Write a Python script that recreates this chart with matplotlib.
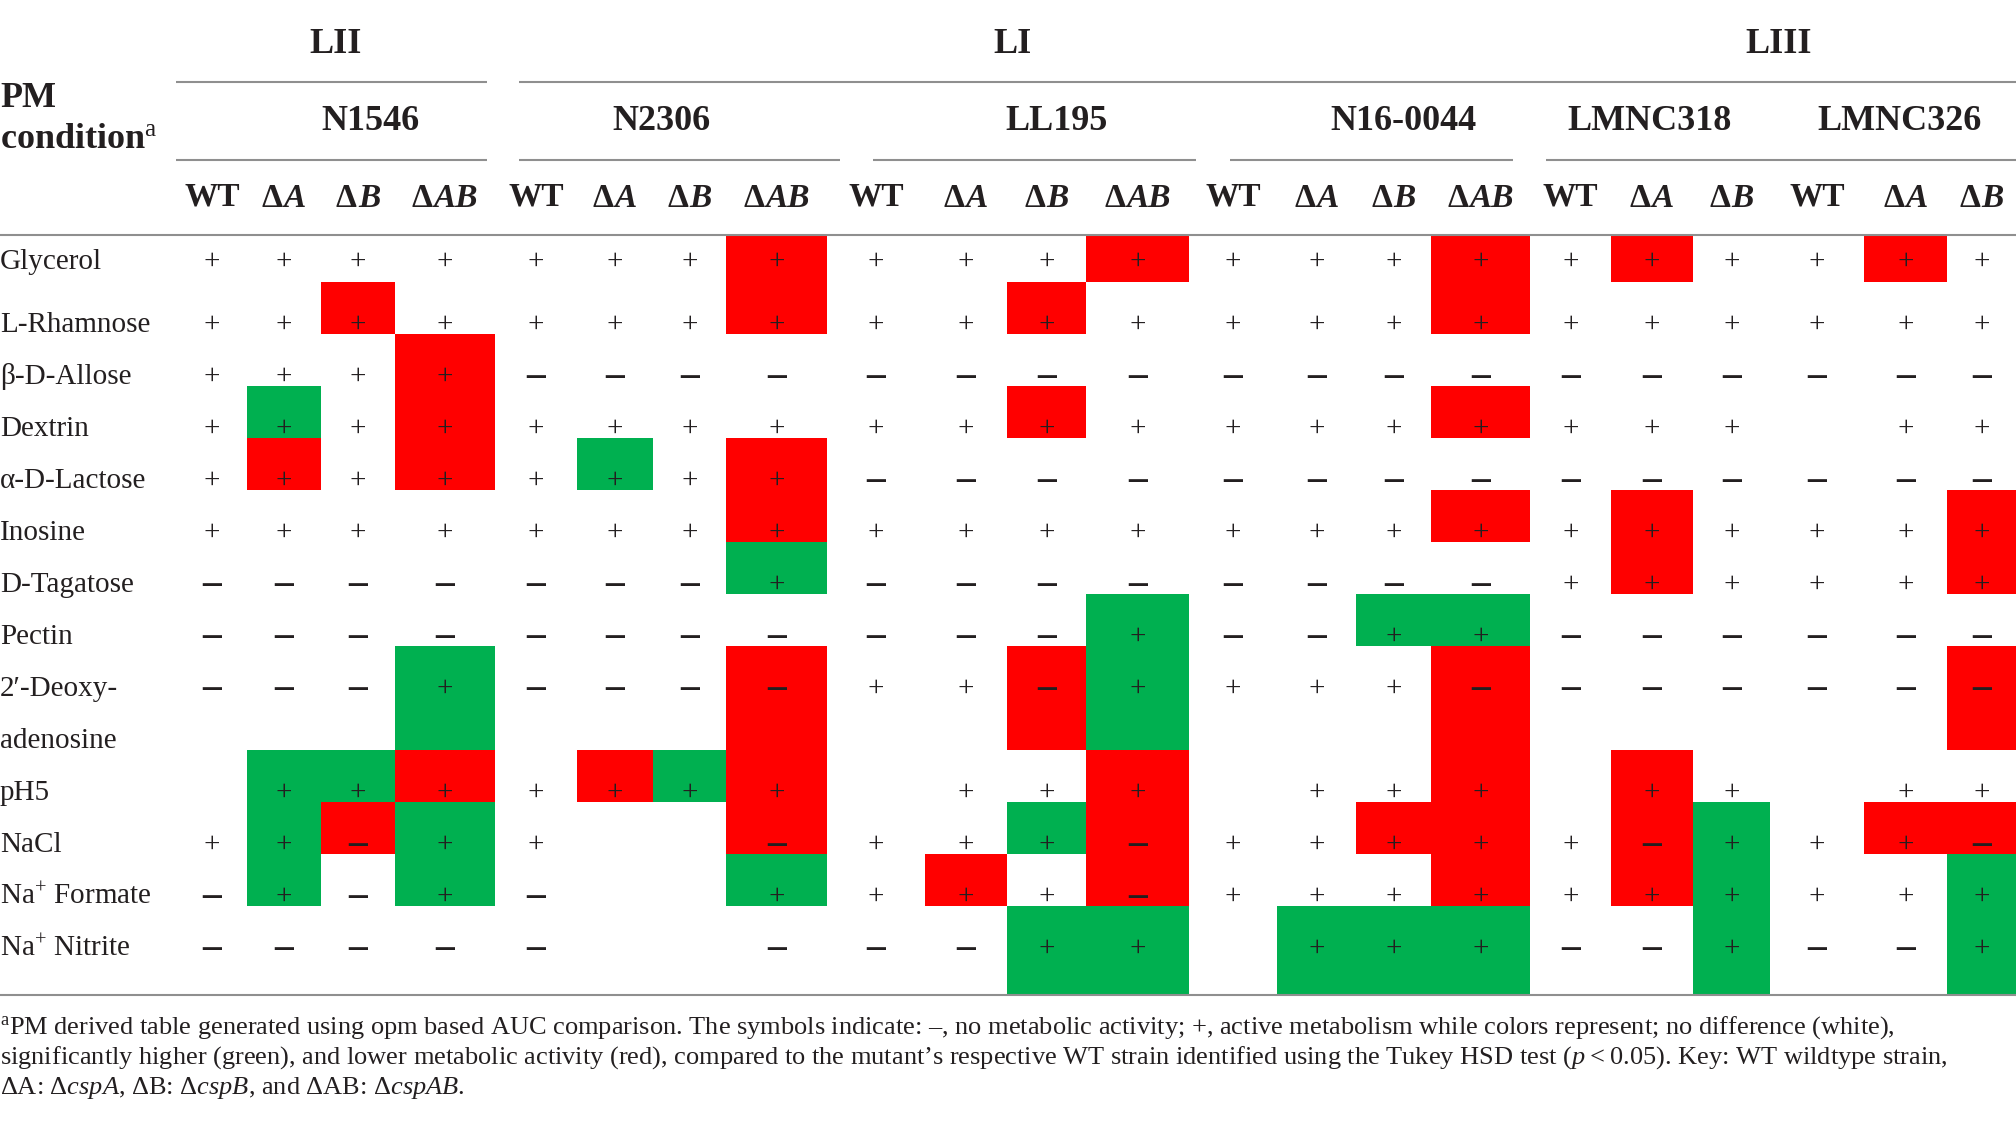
import matplotlib
matplotlib.use('Agg')
import matplotlib.pyplot as plt
from matplotlib.patches import Rectangle
from matplotlib.offsetbox import TextArea, HPacker, AnnotationBbox

plt.rcParams['font.family'] = ['Liberation Serif', 'DejaVu Serif']
plt.rcParams['mathtext.fontset'] = 'custom'
plt.rcParams['mathtext.rm'] = 'Liberation Serif'
plt.rcParams['mathtext.it'] = 'Liberation Serif:italic'
plt.rcParams['mathtext.bf'] = 'Liberation Serif:bold'

# ---------------- data ----------------
lineages = ['LII', 'LI', 'LIII']
strains = ['N1546', 'N2306', 'LL195', 'N16-0044', 'LMNC318', 'LMNC326']
strain_mutants = [
    ['WT', 'A', 'B', 'AB'],
    ['WT', 'A', 'B', 'AB'],
    ['WT', 'A', 'B', 'AB'],
    ['WT', 'A', 'B', 'AB'],
    ['WT', 'A', 'B'],
    ['WT', 'A', 'B'],
]
conditions = ['Glycerol', 'L-Rhamnose', 'β-D-Allose', 'Dextrin', 'α-D-Lactose',
              'Inosine', 'D-Tagatose', 'Pectin', '2′-Deoxy-\nadenosine', 'pH5',
              'NaCl', 'Na$^{+}$ Formate', 'Na$^{+}$ Nitrite']
# '+' active, '-' no activity, '.' blank ; groups separated by '|'
symbols = [
    "++++|++++|++++|++++|+++|+++",
    "++++|++++|++++|++++|+++|+++",
    "++++|----|----|----|---|---",
    "++++|++++|++++|++++|+++|.++",
    "++++|++++|----|----|---|---",
    "++++|++++|++++|++++|+++|+++",
    "----|---+|----|----|+++|+++",
    "----|----|---+|--++|---|---",
    "---+|----|++-+|+++-|---|---",
    ".+++|++++|.+++|.+++|.++|.++",
    "++-+|+..-|+++-|++++|+-+|++-",
    "-+-+|-..+|+++-|++++|+++|+++",
    "----|-..-|--++|.+++|--+|--+",
]
# 'G' significantly higher, 'R' lower, '.' no difference
changes = [
    "....|...R|...R|...R|.R.|.R.",
    "..R.|...R|..R.|...R|...|...",
    "...R|....|....|....|...|...",
    ".G.R|....|..R.|...R|...|...",
    ".R.R|.G.R|....|....|...|...",
    "....|...R|....|...R|.R.|..R",
    "....|...G|....|....|.R.|..R",
    "....|....|...G|..GG|...|...",
    "...G|...R|..RG|...R|...|..R",
    ".GGR|.RGR|...R|...R|.R.|...",
    ".GRG|...R|..GR|..RR|.RG|.RR",
    ".G.G|...G|.R.R|...R|.RG|..G",
    "....|....|..GG|.GGG|..G|..G",
]
footnote = [
    "$^{\\mathrm{a}}$PM derived table generated using opm based AUC comparison. The symbols indicate: \u2013, no metabolic activity; +, active metabolism while colors represent; no difference (white),",
    "significantly higher (green), and lower metabolic activity (red), compared to the mutant\u2019s respective WT strain identified using the Tukey HSD test ($\\mathit{p}$\u2009<\u20090.05). Key: WT wildtype strain,",
    "\u0394A: \u0394$\\mathit{cspA}$, \u0394B: \u0394$\\mathit{cspB}$, and \u0394AB: \u0394$\\mathit{cspAB}$.",
]

# ---------------- layout ----------------
W, H = 2016, 1125
TXT = '#231f20'
RULE = '#8f8f8f'
COLORS = {'R': '#ff0000', 'G': '#00b050'}

col_edges = [177, 247, 321, 395, 495, 577, 653, 726, 827, 925, 1007, 1086,
             1189, 1277, 1356, 1431, 1530, 1611, 1693, 1770, 1864, 1947, 2016]
lineage_x = [336, 1012, 1779]
lineage_lines = [(176, 487), (519, 2016), (519, 2016)]
strain_x = [370, 661, 1057, 1403, 1650, 1900]
strain_lines = [(176, 487), (519, 840), (873, 1196), (1230, 1513), (1546, 2016), (1546, 2016)]
header_bottom = 235
slot_edges = [header_bottom] + [282 + 52 * k for k in range(13)] + [995]
slot_sym_y = [262] + [325 + 52 * k for k in range(13)]

fig = plt.figure(figsize=(W / 100, H / 100), dpi=100)
ax = fig.add_axes([0, 0, 1, 1])
ax.set_xlim(0, W)
ax.set_ylim(H, 0)
ax.axis('off')

# rules
for (a, b) in set(lineage_lines):
    ax.plot([a, b], [82, 82], color=RULE, lw=1.5, solid_capstyle='butt')
for (a, b) in set(strain_lines):
    ax.plot([a, b], [160, 160], color=RULE, lw=1.5, solid_capstyle='butt')
ax.plot([0, W], [header_bottom, header_bottom], color=RULE, lw=1.5)
ax.plot([0, W], [slot_edges[-1], slot_edges[-1]], color=RULE, lw=1.5)

# headers
for name, x in zip(lineages, lineage_x):
    ax.text(x, 53, name, ha='center', va='baseline', fontsize=26, fontweight='bold', color=TXT)
for name, x in zip(strains, strain_x):
    ax.text(x, 130, name, ha='center', va='baseline', fontsize=26, fontweight='bold', color=TXT)
ax.text(0, 107, 'PM', ha='left', va='baseline', fontsize=26, fontweight='bold', color=TXT)
ax.text(0, 148, 'condition$^{\\mathrm{a}}$', ha='left', va='baseline', fontsize=26, fontweight='bold', color=TXT)

col = 0
col_centers = []
for muts in strain_mutants:
    for m in muts:
        xc = (col_edges[col] + col_edges[col + 1]) / 2
        col_centers.append(xc)
        if m == 'WT':
            ax.text(xc, 205, 'WT', ha='center', va='baseline', fontsize=24, fontweight='bold', color=TXT)
        else:
            box = HPacker(children=[
                TextArea('\u0394', textprops=dict(fontsize=24, fontweight='bold', color=TXT)),
                TextArea(m, textprops=dict(fontsize=24, fontweight='bold', fontstyle='italic', color=TXT)),
            ], pad=0, sep=1, align='baseline')
            ab = AnnotationBbox(box, (xc, 198.5), xycoords='data', frameon=False,
                                box_alignment=(0.5, 0.5), pad=0)
            ax.add_artist(ab)
        col += 1

# body
slot = 0
for cond, sym, chg in zip(conditions, symbols, changes):
    lines = cond.split('\n')
    nslots = len(lines)
    top = slot_edges[slot]
    bottom = slot_edges[slot + nslots]
    s = sym.replace('|', '')
    c = chg.replace('|', '')
    for j in range(len(s)):
        if c[j] in COLORS:
            ax.add_patch(Rectangle((col_edges[j], top), col_edges[j + 1] - col_edges[j],
                                   bottom - top, facecolor=COLORS[c[j]], edgecolor='none', zorder=1))
    for k, ln in enumerate(lines):
        ax.text(0, slot_sym_y[slot + k] + 7, ln, ha='left', va='baseline', fontsize=21, color=TXT, zorder=3)
    y = slot_sym_y[slot]
    for j in range(len(s)):
        if s[j] == '+':
            ax.text(col_centers[j], y + 7, '+', ha='center', va='baseline', fontsize=21, color=TXT, zorder=3)
        elif s[j] == '-':
            ax.text(col_centers[j], y + 9, '\u2013', ha='center', va='baseline', fontsize=27,
                    fontweight='bold', color=TXT, zorder=3)
    slot += nslots

# footnote, fitted to width
renderer = fig.canvas.get_renderer()
probe = ax.text(0, 0, footnote[1], fontsize=17)
wpx = probe.get_window_extent(renderer).width
probe.remove()
fs = 17 * 1953 / wpx
for ln, yb in zip(footnote, [1034, 1064, 1094]):
    ax.text(0, yb, ln, ha='left', va='baseline', fontsize=fs, color=TXT)

fig.savefig('out.png', dpi=100)
